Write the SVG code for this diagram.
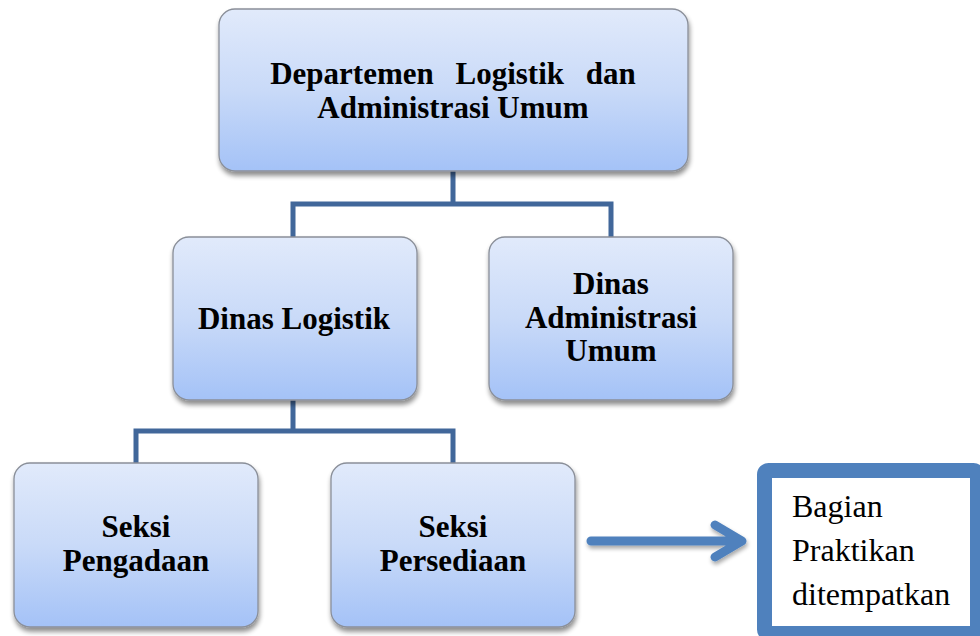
<svg xmlns="http://www.w3.org/2000/svg" width="980" height="636" viewBox="0 0 980 636">
<defs>
<linearGradient id="g" x1="0" y1="0" x2="0" y2="1">
<stop offset="0" stop-color="#e1eafb"/>
<stop offset="0.5" stop-color="#c9daf8"/>
<stop offset="1" stop-color="#a4c2f7"/>
</linearGradient>
<filter id="sh" x="-10%" y="-10%" width="125%" height="130%">
<feGaussianBlur in="SourceAlpha" stdDeviation="2.5"/>
<feOffset dx="1" dy="4" result="b"/>
<feComponentTransfer><feFuncA type="linear" slope="0.45"/></feComponentTransfer>
<feMerge><feMergeNode/><feMergeNode in="SourceGraphic"/></feMerge>
</filter>
<filter id="sh2" x="-10%" y="-50%" width="125%" height="200%">
<feGaussianBlur in="SourceAlpha" stdDeviation="2"/>
<feOffset dx="1" dy="3"/>
<feComponentTransfer><feFuncA type="linear" slope="0.35"/></feComponentTransfer>
<feMerge><feMergeNode/><feMergeNode in="SourceGraphic"/></feMerge>
</filter>
</defs>
<style>
.box{fill:url(#g);stroke:#8a8f99;stroke-width:1.3;filter:url(#sh)}
.t{font-family:"Liberation Serif","Times New Roman",serif;font-weight:bold;font-size:31px;fill:#000;text-anchor:middle}
.c{fill:none;stroke:#41679a;stroke-width:5;stroke-linejoin:miter}
.r{font-family:"Liberation Serif","Times New Roman",serif;font-size:32px;fill:#000}
</style>
<rect width="980" height="636" fill="#fff"/>
<g id="connectors">
<path class="c" d="M453 171 V204 M293 237 V204 H611 V237"/>
<path class="c" d="M293 400 V431 M136 463 V431 H453 V463"/>
<g filter="url(#sh2)">
<path d="M591 541 H738 M715 525 L742 541 L715 557" fill="none" stroke="#4f81bd" stroke-width="9" stroke-linecap="round" stroke-linejoin="round"/>
</g>
</g>
<g id="n-dept">
<rect class="box" x="219" y="9" width="469" height="162" rx="16"/>
<text class="t" x="453" y="84" word-spacing="14">Departemen Logistik dan</text>
<text class="t" x="453" y="118">Administrasi Umum</text>
</g>
<g id="n-dinas-log">
<rect class="box" x="173" y="237" width="244" height="163" rx="16"/>
<text class="t" x="294" y="329">Dinas Logistik</text>
</g>
<g id="n-dinas-adm">
<rect class="box" x="489" y="237" width="244" height="163" rx="16"/>
<text class="t" x="611" y="294">Dinas</text>
<text class="t" x="611" y="328">Administrasi</text>
<text class="t" x="611" y="361">Umum</text>
</g>
<g id="n-pengadaan">
<rect class="box" x="14" y="463" width="244" height="164" rx="16"/>
<text class="t" x="136" y="537">Seksi</text>
<text class="t" x="136" y="571">Pengadaan</text>
</g>
<g id="n-persediaan">
<rect class="box" x="331" y="463" width="244" height="164" rx="16"/>
<text class="t" x="453" y="537">Seksi</text>
<text class="t" x="453" y="571">Persediaan</text>
</g>
<g id="n-bagian">
<rect x="764.5" y="470.5" width="213" height="163" rx="4" fill="#fff" stroke="#4f81bd" stroke-width="15"/>
<text class="r" x="792" y="517">Bagian</text>
<text class="r" x="792" y="561">Praktikan</text>
<text class="r" x="792" y="605">ditempatkan</text>
</g>
</svg>
